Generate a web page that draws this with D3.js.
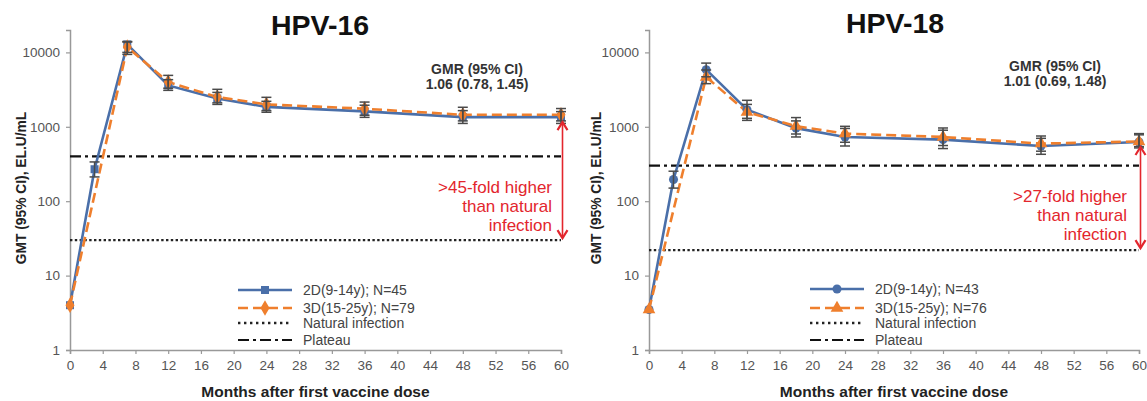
<!DOCTYPE html>
<html>
<head>
<meta charset="utf-8">
<script src="https://cdn.jsdelivr.net/npm/d3@7"></script>
<style>
  html, body { margin: 0; padding: 0; background: #fff; }
  svg { display: block; font-family: "Liberation Sans", Arial, sans-serif; }
</style>
</head>
<body>
<svg id="chart" width="1147" height="401"></svg>
<script>
// Antibody GMT over time after the first dose, 2-dose (9-14y) vs 3-dose (15-25y)

const monthTicks = [0, 4, 8, 12, 16, 20, 24, 28, 32, 36, 40, 44, 48, 52, 56, 60];
const gmtTicks = [1, 10, 100, 1000, 10000];

// HPV-16
const hpv16Months2D = [0, 3, 7, 12, 18, 24, 36, 48, 60];
const hpv16Gmt2D    = [4, 269, 12800, 3600, 2400, 1850, 1610, 1350, 1350];
const hpv16Low2D    = [4, 212, 9400, 3090, 2000, 1570, 1340, 1110, 1110];
const hpv16High2D   = [4, 337, 13800, 4300, 2900, 2200, 1950, 1650, 1600];
const hpv16Months3D = [0, 7, 12, 18, 24, 36, 48, 60];
const hpv16Gmt3D    = [4, 11800, 3990, 2510, 2000, 1750, 1450, 1450];
const hpv16Low3D    = [4, 10000, 3300, 2100, 1650, 1430, 1200, 1200];
const hpv16High3D   = [4, 14000, 4910, 3190, 2490, 2150, 1830, 1760];
const hpv16Natural  = 30;
const hpv16Plateau  = 400;
const hpv16Legend   = ["2D(9-14y); N=45", "3D(15-25y); N=79", "Natural infection", "Plateau"];
const hpv16Gmr      = ["GMR (95% CI)", "1.06 (0.78, 1.45)"];
const hpv16Fold     = [">45-fold higher", "than natural", "infection"];

// HPV-18
const hpv18Months2D = [0, 3, 7, 12, 18, 24, 36, 48, 60];
const hpv18Gmt2D    = [3.5, 196, 5860, 1700, 960, 730, 673, 552, 625];
const hpv18Low2D    = [3.5, 150, 4700, 1300, 730, 552, 510, 427, 520];
const hpv18High2D   = [3.5, 253, 7180, 2270, 1200, 950, 900, 700, 780];
const hpv18Months3D = [0, 7, 12, 18, 24, 36, 48, 60];
const hpv18Gmt3D    = [3.5, 4670, 1580, 1020, 810, 730, 594, 635];
const hpv18Low3D    = [3.5, 3800, 1220, 800, 620, 560, 470, 540];
const hpv18High3D   = [3.5, 5800, 2000, 1330, 1015, 964, 752, 810];
const hpv18Natural  = 22;
const hpv18Plateau  = 300;
const hpv18Legend   = ["2D(9-14y); N=43", "3D(15-25y); N=76", "Natural infection", "Plateau"];
const hpv18Gmr      = ["GMR (95% CI)", "1.01 (0.69, 1.48)"];
const hpv18Fold     = [">27-fold higher", "than natural", "infection"];

const BLUE = "#4a6fa9";
const ORANGE = "#ef7f2d";
const RED = "#e3262d";
const AXIS = "#999";
const TEXT = "#555";
const DOTS = "2.4,2.4";
const DASH_DOT = "11,4,3,4";

const svg = d3.select("#chart");
svg.append("rect").attr("width", 1147).attr("height", 401).attr("fill", "#fff");

const zip = (m, v, lo, hi) => m.map((x, i) => ({ m: x, v: v[i], lo: lo[i], hi: hi[i] }));

function drawPanel(opt) {
  const g = svg.append("g");
  const x = d3.scaleLinear().domain([0, 60]).range([opt.left, opt.right]);
  const y = d3.scaleLog().domain([1, 20000]).range([350, 30]);

  // axes
  const xAxis = d3.axisBottom(x).tickValues(monthTicks).tickSize(4).tickPadding(6).tickFormat(d3.format("d"));
  const gx = g.append("g").attr("transform", `translate(0,${y(1)})`).call(xAxis);
  gx.select(".domain").attr("stroke", AXIS).attr("stroke-width", 1.5);
  gx.selectAll(".tick line").attr("stroke", AXIS).attr("stroke-width", 1.2);
  gx.selectAll(".tick text").attr("fill", TEXT).attr("font-size", 13.5).attr("font-family", "Liberation Sans, Arial, sans-serif");

  const yAxis = d3.axisLeft(y).tickValues(gmtTicks).tickSize(4).tickPadding(6).tickFormat(d3.format("d"));
  const gy = g.append("g").attr("transform", `translate(${opt.left},0)`).call(yAxis);
  gy.select(".domain").attr("stroke", AXIS).attr("stroke-width", 1.5);
  gy.selectAll(".tick line").attr("stroke", AXIS).attr("stroke-width", 1.2);
  gy.selectAll(".tick text").attr("fill", TEXT).attr("font-size", 13.5).attr("font-family", "Liberation Sans, Arial, sans-serif");

  // axis titles
  g.append("text")
    .attr("x", (opt.left + opt.right) / 2).attr("y", 397)
    .attr("text-anchor", "middle").attr("font-weight", "bold").attr("font-size", 15.5).attr("fill", "#222")
    .text("Months after first vaccine dose");
  g.append("text")
    .attr("transform", `translate(${opt.yTitleX},188) rotate(-90)`)
    .attr("text-anchor", "middle").attr("dominant-baseline", "central")
    .attr("font-weight", "bold").attr("font-size", 13.8).attr("fill", "#222")
    .text("GMT (95% CI), EL.U/mL");

  // panel title
  g.append("text")
    .attr("x", opt.titleX).attr("y", opt.titleY)
    .attr("text-anchor", "middle").attr("font-weight", "bold").attr("font-size", 28.5).attr("fill", "#111")
    .text(opt.title);

  // GMR note
  opt.gmr.forEach((t, i) => {
    g.append("text")
      .attr("x", opt.gmrX).attr("y", opt.gmrY + i * 15)
      .attr("text-anchor", "middle").attr("font-weight", "bold").attr("font-size", 14).attr("fill", "#333")
      .text(t);
  });

  // reference lines
  g.append("line")
    .attr("x1", x(0)).attr("x2", x(60)).attr("y1", y(opt.plateau)).attr("y2", y(opt.plateau))
    .attr("stroke", "#111").attr("stroke-width", 2.2).attr("stroke-dasharray", DASH_DOT);
  g.append("line")
    .attr("x1", x(0)).attr("x2", x(60)).attr("y1", y(opt.natural)).attr("y2", y(opt.natural))
    .attr("stroke", "#222").attr("stroke-width", 2.4).attr("stroke-dasharray", DOTS);

  const line = d3.line().x(d => x(d.m)).y(d => y(d.v));

  // series lines
  g.append("path").datum(opt.s2D).attr("d", line)
    .attr("fill", "none").attr("stroke", BLUE).attr("stroke-width", 2.6);
  g.append("path").datum(opt.s3D).attr("d", line)
    .attr("fill", "none").attr("stroke", ORANGE).attr("stroke-width", 2.6).attr("stroke-dasharray", "10,5");

  // markers
  const sym2D = d3.symbol().type(opt.marker2D).size(64);
  const sym3D = d3.symbol().type(opt.marker3D).size(70);
  g.selectAll(".m2").data(opt.s2D).join("path")
    .attr("transform", d => `translate(${x(d.m)},${y(d.v)})`)
    .attr("d", sym2D).attr("fill", BLUE);
  g.selectAll(".m3").data(opt.s3D).join("path")
    .attr("transform", d => `translate(${x(d.m)},${y(d.v)})`)
    .attr("d", sym3D).attr("fill", ORANGE);

  // error bars
  const bars = opt.s2D.concat(opt.s3D).filter(d => d.hi > d.lo);
  const eb = g.append("g").attr("stroke", "#4a4a4a").attr("stroke-width", 1.5);
  bars.forEach(d => {
    const cx = x(d.m);
    eb.append("line").attr("x1", cx).attr("x2", cx).attr("y1", y(d.lo)).attr("y2", y(d.hi));
    eb.append("line").attr("x1", cx - 5).attr("x2", cx + 5).attr("y1", y(d.lo)).attr("y2", y(d.lo));
    eb.append("line").attr("x1", cx - 5).attr("x2", cx + 5).attr("y1", y(d.hi)).attr("y2", y(d.hi));
  });

  // fold-difference arrow between the last GMT and natural infection level
  const last = opt.s2D[opt.s2D.length - 1];
  const ax = x(60) + 1.5;
  const top = y(last.v) + 5;
  const bot = y(opt.natural) - 2;
  const ar = g.append("g").attr("stroke", RED).attr("fill", "none").attr("stroke-width", 1.6);
  ar.append("line").attr("x1", ax).attr("x2", ax).attr("y1", top).attr("y2", bot);
  ar.append("path").attr("d", `M${ax - 5},${top + 8}L${ax},${top}L${ax + 5},${top + 8}`).attr("stroke-width", 2.2);
  ar.append("path").attr("d", `M${ax - 5},${bot - 8}L${ax},${bot}L${ax + 5},${bot - 8}`).attr("stroke-width", 2.2);

  opt.fold.forEach((t, i) => {
    g.append("text")
      .attr("x", opt.foldX).attr("y", opt.foldY + i * 18.8)
      .attr("text-anchor", "end").attr("font-size", 17).attr("fill", RED)
      .text(t);
  });

  // legend
  const lg = g.append("g");
  const rows = [
    { y: opt.legendY[0], stroke: BLUE, dash: null, w: 2.6, sym: sym2D, fill: BLUE },
    { y: opt.legendY[1], stroke: ORANGE, dash: "10,5", w: 2.6, sym: sym3D, fill: ORANGE },
    { y: opt.legendY[2], stroke: "#222", dash: "2.4,3.6", w: 2.4, sym: null },
    { y: opt.legendY[3], stroke: "#111", dash: DASH_DOT, w: 2.2, sym: null }
  ];
  rows.forEach((r, i) => {
    lg.append("line")
      .attr("x1", opt.legendX).attr("x2", opt.legendX + 54).attr("y1", r.y).attr("y2", r.y)
      .attr("stroke", r.stroke).attr("stroke-width", r.w).attr("stroke-dasharray", r.dash);
    if (r.sym) {
      lg.append("path").attr("transform", `translate(${opt.legendX + 27},${r.y})`)
        .attr("d", r.sym).attr("fill", r.fill);
    }
    lg.append("text")
      .attr("x", opt.legendX + 65).attr("y", r.y).attr("dominant-baseline", "central")
      .attr("font-size", 14).attr("fill", "#444")
      .text(opt.legend[i]);
  });
}

drawPanel({
  left: 70, right: 561, yTitleX: 21,
  title: "HPV-16", titleX: 320, titleY: 35,
  gmr: hpv16Gmr, gmrX: 477, gmrY: 74,
  fold: hpv16Fold, foldX: 552, foldY: 193,
  natural: hpv16Natural, plateau: hpv16Plateau,
  s2D: zip(hpv16Months2D, hpv16Gmt2D, hpv16Low2D, hpv16High2D),
  s3D: zip(hpv16Months3D, hpv16Gmt3D, hpv16Low3D, hpv16High3D),
  marker2D: d3.symbolSquare, marker3D: d3.symbolDiamond,
  legend: hpv16Legend, legendX: 238, legendY: [290, 308, 323, 340]
});

drawPanel({
  left: 649, right: 1139, yTitleX: 596,
  title: "HPV-18", titleX: 895, titleY: 33,
  gmr: hpv18Gmr, gmrX: 1055, gmrY: 71,
  fold: hpv18Fold, foldX: 1127, foldY: 202,
  natural: hpv18Natural, plateau: hpv18Plateau,
  s2D: zip(hpv18Months2D, hpv18Gmt2D, hpv18Low2D, hpv18High2D),
  s3D: zip(hpv18Months3D, hpv18Gmt3D, hpv18Low3D, hpv18High3D),
  marker2D: d3.symbolCircle, marker3D: d3.symbolTriangle,
  legend: hpv18Legend, legendX: 810, legendY: [289, 308, 323, 340]
});
</script>
</body>
</html>
